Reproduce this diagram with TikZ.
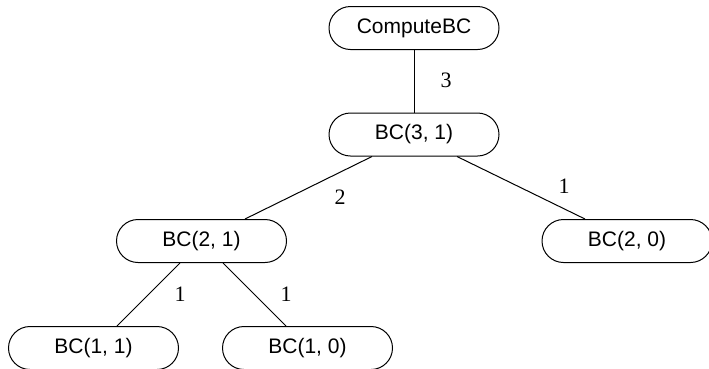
\documentclass[tikz,border=0pt]{standalone}
\usepackage{fontspec}
\setmainfont{Liberation Serif}
\setsansfont{Liberation Sans}
\begin{document}
\begin{tikzpicture}[x=1pt,y=-1pt,
  callbox/.style={draw, line width=1pt, rounded corners=21.5pt,
    minimum width=170pt, minimum height=43pt, inner sep=0pt,
    font=\sffamily\fontsize{21}{25}\selectfont},
  edge/.style={line width=1pt},
  cost/.style={inner sep=0pt, font=\rmfamily\fontsize{22}{26}\selectfont}]
  \useasboundingbox (0,0) rectangle (709,368);

  % call tree nodes
  \node[callbox] (root) at (414,28)    {ComputeBC};
  \node[callbox] (b31)  at (414,134.5) {BC(3, 1)};
  \node[callbox] (b21)  at (201.5,241) {BC(2, 1)};
  \node[callbox] (b20)  at (627,241)   {BC(2, 0)};
  \node[callbox] (b11)  at (93.5,348)  {BC(1, 1)};
  \node[callbox] (b10)  at (307.5,348) {BC(1, 0)};

  % calls
  \draw[edge] (root.south) -- (b31.north);
  \draw[edge] ([xshift=-42pt]b31.south) -- ([xshift=43.5pt]b21.north);
  \draw[edge] ([xshift=43pt]b31.south) -- ([xshift=-42pt]b20.north);
  \draw[edge] ([xshift=-21.5pt]b21.south) -- ([xshift=23.5pt]b11.north);
  \draw[edge] ([xshift=21.5pt]b21.south) -- ([xshift=-21.5pt]b10.north);

  % costs of each call
  \node[cost] (c3)  at (446,80)  {3};
  \node[cost] (c2)  at (340,197) {2};
  \node[cost] (c1r) at (564,186) {1};
  \node[cost] (c1a) at (180,294) {1};
  \node[cost] (c1b) at (286,294) {1};
\end{tikzpicture}
\end{document}
